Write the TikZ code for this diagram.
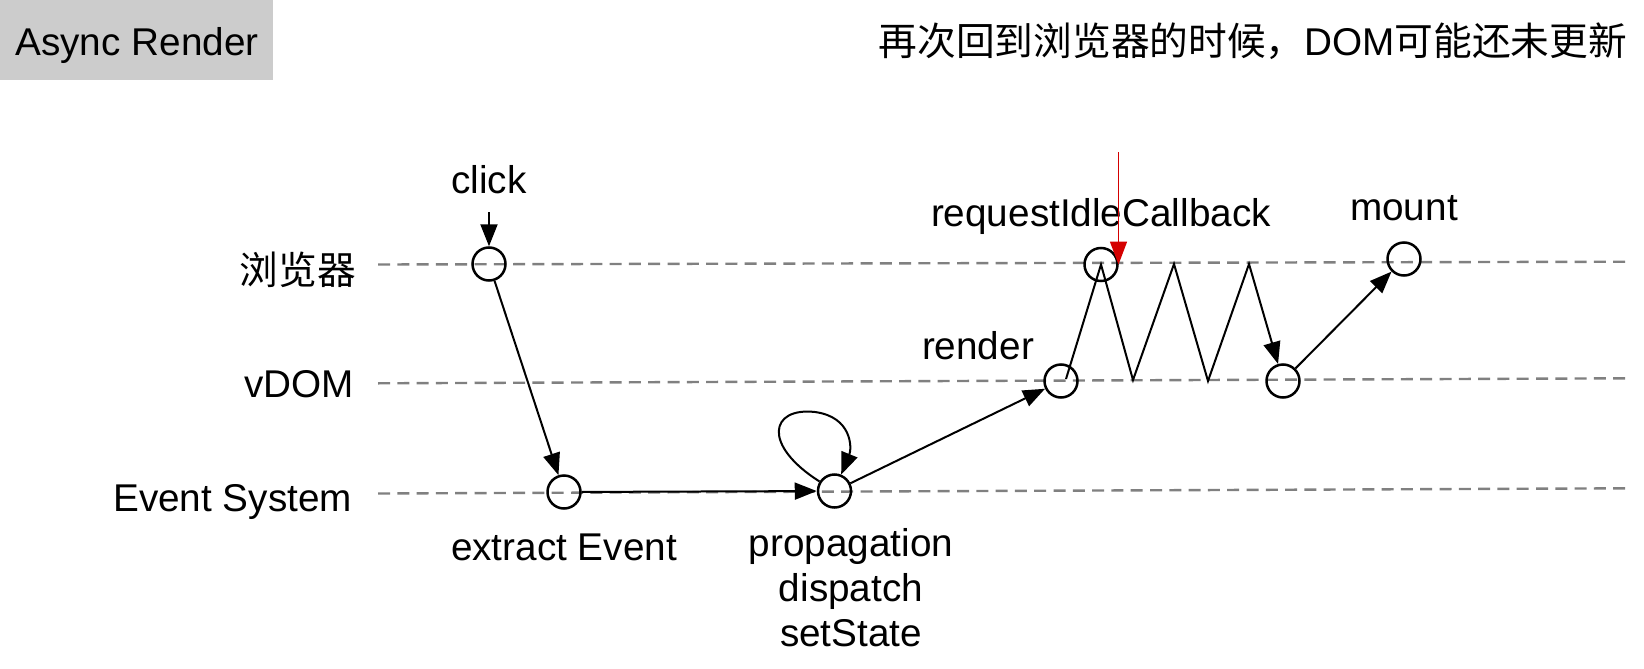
\documentclass[tikz,border=0pt]{standalone}
\usepackage{fontspec}
\setmainfont{Liberation Sans}
\newfontfamily\cjk{Noto Sans CJK SC}
\usetikzlibrary{arrows.meta,calc}
\definecolor{lanegray}{HTML}{808080}
\definecolor{boxgray}{HTML}{CCCCCC}
\definecolor{redline}{HTML}{D40000}
\begin{document}
\begin{tikzpicture}[x=0.5pt,y=-0.5pt,
  lbl/.style={font=\fontsize{19.35pt}{22.5pt}\selectfont, inner sep=0pt, outer sep=0pt},
  state/.style={circle, draw, line width=1.25pt, minimum size=16.5pt, inner sep=0pt},
  arr/.style={line width=1pt, line join=miter, -{Triangle[length=11pt,width=8.5pt]}},
  redarr/.style={draw=redline, line width=0.85pt, -{Triangle[length=11.5pt,width=8.5pt]}, redline},
  lane/.style={draw=lanegray, line width=1.2pt, dash pattern=on 6pt off 3.65pt}]
\useasboundingbox (0,0) rectangle (1644,669);

% title box
\node[fill=boxgray, anchor=north west, minimum width=136.5pt, minimum height=40pt, inner sep=0pt] (titlebox) at (0,0) {};
\node[lbl, anchor=base] (titletext) at (137,55) {Async Render};
\node[lbl, anchor=base east] (note) at (1627,55) {{\cjk 再次回到浏览器的时候，}DOM{\cjk 可能还未更新}};

% lanes
\coordinate (bL) at (378,264.5); \coordinate (bR) at (1630,261.7);
\coordinate (vL) at (378,383.3); \coordinate (vR) at (1630,378.3);
\coordinate (eL) at (378,493.5); \coordinate (eR) at (1630,488.3);
\draw[lane] (bL) -- (bR);
\draw[lane] (vL) -- (vR);
\draw[lane] (eL) -- (eR);

\node[lbl, anchor=base east] (laneB) at (356,284) {\cjk 浏览器};
\node[lbl, anchor=base east] (laneV) at (354,397) {vDOM};
\node[lbl, anchor=base east] (laneE) at (352,511) {Event System};

% states
\node[state] (A) at (489,264) {};
\node[state] (B) at (564,492) {};
\node[state] (C) at (834.5,491) {};
\node[state] (D) at (1061,381) {};
\node[state] (E) at (1101,264.5) {};
\node[state] (F) at (1283,381) {};
\node[state] (G) at (1404,259) {};

% labels
\node[lbl, anchor=base] (clickL) at (489,193) {click};
\node[lbl, anchor=base] (extractL) at (564,560) {extract Event};
\node[lbl, anchor=base, align=center] (propL) at (851,646.7) {propagation\\dispatch\\setState};
\node[lbl, anchor=base] (renderL) at (978,359) {render};
\node[lbl, anchor=base] (ricL) at (1101,226.7) {requestIdleCallback};
\node[lbl, anchor=base] (mountL) at (1404,220) {mount};

% connectors
\coordinate (c0) at (489,212);
\draw[arr] (c0) -- (A);
\draw[arr] (A) -- (B);
\draw[arr] (B) -- (C);
\coordinate (loopTop) at (815,412);
\draw[arr] (C) .. controls (762,445) and (770,407) .. (loopTop) .. controls (852,417) and (852,448) .. (C);
\draw[arr] (C) -- (D);
\coordinate (z0) at (1066,379);
\coordinate (z1) at (1133,380);
\coordinate (z2) at (1174,264);
\coordinate (z3) at (1208,381);
\coordinate (z4) at (1249,264);
\draw[arr] (z0) -- (E.center) -- (z1) -- (z2) -- (z3) -- (z4) -- (F);
\draw[arr] (F) -- (G);
\coordinate (r0) at (1118.5,152);
\draw[redarr] (r0) -- (r0 |- E.center);
\end{tikzpicture}
\end{document}
